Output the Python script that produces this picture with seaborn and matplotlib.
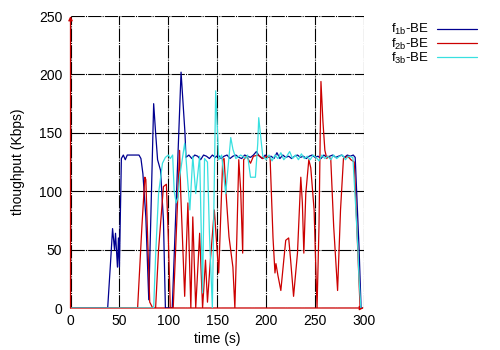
import numpy as np
import pandas as pd
import matplotlib
matplotlib.use("Agg")
import matplotlib.pyplot as plt
import seaborn as sns

# ---- data ----
series_names = ["f$_{\\mathregular{1b}}$-BE", "f$_{\\mathregular{2b}}$-BE", "f$_{\\mathregular{3b}}$-BE"]
series_colors = ["#000090", "#cc0000", "#38e0e0"]

t_f1b = [0, 38, 41, 43, 45, 46, 48, 49, 50, 52, 54, 56, 58, 63, 70, 72, 74, 77, 80, 85, 87, 89, 92, 95, 97,
         104, 108, 113, 117, 118, 121, 124, 127, 130, 133, 136, 139, 142, 145, 148, 151, 154, 157, 160, 163,
         166, 169, 172, 175, 178, 181, 184, 187, 190, 193, 196, 199, 202, 205, 208, 211, 214, 217, 220, 223,
         226, 229, 232, 235, 238, 241, 244, 247, 250, 253, 256, 259, 262, 265, 268, 271, 274, 277, 280, 283,
         286, 289, 291, 295, 297]
v_f1b = [0, 0, 40, 68, 50, 64, 35, 60, 35, 128, 131, 127, 131, 131, 131, 128, 115, 78, 7, 175, 150, 127, 118, 75, 0,
         0, 90, 202, 150, 129, 131, 128, 131, 130, 127, 131, 130, 128, 131, 129, 131, 128, 130, 131, 128,
         130, 131, 129, 128, 131, 130, 129, 131, 134, 130, 128, 131, 129, 130, 128, 133, 128, 131, 129, 130,
         128, 130, 131, 129, 130, 128, 130, 131, 129, 130, 128, 131, 129, 130, 131, 129, 130, 131, 129, 131,
         130, 131, 129, 50, 0]

t_f2b = [0, 68.6, 73, 76, 77, 79, 81, 84, 87, 90, 95, 98, 100, 102, 105, 109.5, 111.5, 112.6, 116.7, 120, 123,
         125, 128, 132, 135, 138, 140, 143, 147, 149, 151.5, 155.6, 157, 159, 162, 166, 168, 170, 172, 174,
         176, 177, 180, 184, 187, 192, 196.5, 200.6, 204, 207, 209, 210, 212, 215, 218, 220, 223, 225, 228,
         232, 235.4, 237, 238.5, 240.5, 243.6, 245.6, 249, 252, 254, 256, 258, 260, 262, 263, 266, 269, 273,
         276, 279, 283.5, 286.6, 290, 296]
v_f2b = [0, 0, 70, 112, 110, 56, 5, 0, 0, 50, 104, 106, 60, 0, 0, 92, 135, 100, 10, 90, 0,
         78, 0, 64, 0, 41, 5, 41, 84, 60, 30, 127, 128, 98, 61, 35, 0, 60, 127, 100,
         47, 127, 130, 124, 130, 131, 128, 130, 129, 60, 30, 38, 28, 15, 41, 58, 60, 41, 10,
         47, 112, 90, 47, 98, 127, 120, 84, 0, 70, 194, 160, 135, 128, 130, 128, 70, 15,
         84, 128, 130, 127, 125, 0]

t_f3b = [0, 85, 87, 90, 94, 97, 100, 102, 104.4, 106, 108, 110, 111.5, 116.7, 118, 122, 125, 128, 132, 135,
         137, 140, 142, 145, 148.4, 151.5, 154.5, 158.6, 163.8, 166, 169, 174, 179, 181, 184, 187, 189,
         191.4, 192.4, 194.5, 196.5, 200, 203, 206, 209, 212, 215, 218, 221, 224, 227, 230, 233, 236, 239,
         242, 245, 248, 251, 254, 257, 260, 263, 266, 269, 272, 275, 278, 281, 284, 288.6, 291.7, 293.8,
         294.8, 296.8]
v_f3b = [0, 0, 45, 98, 124, 129, 131, 128, 131, 100, 90, 95, 112, 141, 129, 84, 130, 98, 130, 13,
         128, 125, 64, 0, 186, 127, 131, 98, 146, 136, 128, 131, 128, 131, 112, 112, 112,
         141, 163, 146, 130, 127, 131, 126, 131, 128, 133, 127, 130, 134, 128, 131, 127, 132, 128,
         130, 127, 131, 129, 126, 131, 128, 130, 127, 131, 128, 130, 131, 127, 130, 129, 84, 50,
         27, 0]

x_ticks = [0, 50, 100, 150, 200, 250, 300]
y_ticks = [0, 50, 100, 150, 200, 250]
x_label = "time (s)"
y_label = "thoughput (Kbps)"

# ---- build long table ----
frames = []
for name, t, v in zip(series_names, [t_f1b, t_f2b, t_f3b], [v_f1b, v_f2b, v_f3b]):
    frames.append(pd.DataFrame({"time": t, "value": v, "series": name}))
df = pd.concat(frames, ignore_index=True)

sns.set_theme(style="white")
plt.rcParams["font.family"] = ["Liberation Sans", "DejaVu Sans"]
plt.rcParams["mathtext.fontset"] = "custom"
plt.rcParams["mathtext.rm"] = "Liberation Sans"
plt.rcParams["mathtext.it"] = "Liberation Sans"
plt.rcParams["text.color"] = "black"
plt.rcParams["axes.labelcolor"] = "black"

fig = plt.figure(figsize=(5, 3.5), dpi=100)
ax = fig.add_axes([0.141, 0.12, 0.587, 0.834])

sns.lineplot(data=df, x="time", y="value", hue="series", hue_order=series_names,
             palette=dict(zip(series_names, series_colors)), estimator=None,
             linewidth=0.9, ax=ax, legend=False)

ax.set_xlim(x_ticks[0], x_ticks[-1])
ax.set_ylim(y_ticks[0], y_ticks[-1])
ax.set_xticks(x_ticks)
ax.set_yticks(y_ticks)
ax.tick_params(length=0, labelsize=10, colors="black")
ax.tick_params(axis="y", pad=6)
ax.tick_params(axis="x", pad=4)
ax.grid(True, color="black", linestyle=(0, (12, 1, 1, 1)), linewidth=0.8)
for s in ax.spines.values():
    s.set_visible(False)
ax.set_xlabel(x_label, fontsize=10, labelpad=3)
ax.set_ylabel(y_label, fontsize=10, labelpad=10)

# axis arrows (red, as in the reference)
ax.annotate("", xy=(x_ticks[0], y_ticks[-1]), xytext=(x_ticks[0], y_ticks[0]),
            arrowprops=dict(arrowstyle="-|>", color="#cc0000", lw=0.9, mutation_scale=6,
                            shrinkA=0, shrinkB=0), annotation_clip=False, zorder=5)
ax.annotate("", xy=(x_ticks[-1], y_ticks[0]), xytext=(x_ticks[0], y_ticks[0]),
            arrowprops=dict(arrowstyle="-|>", color="#cc0000", lw=0.9, mutation_scale=6,
                            shrinkA=0, shrinkB=0), annotation_clip=False, zorder=1)

handles = [plt.Line2D([], [], color=c, linewidth=0.9) for c in series_colors]
fig.legend(handles, series_names, loc="upper right", bbox_to_anchor=(0.972, 0.963),
           frameon=False, markerfirst=False, fontsize=9.5, handlelength=3.0,
           handletextpad=0.6, labelspacing=-0.05, borderpad=0.2, labelcolor="black")

fig.savefig("out.png", dpi=100)
